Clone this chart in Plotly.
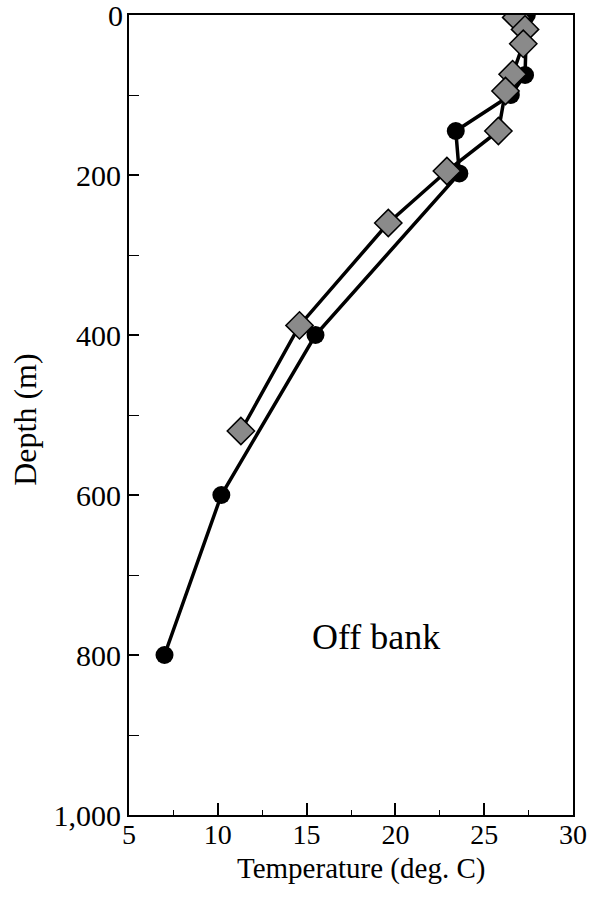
import plotly.graph_objects as go

# Circle series (temperature degC, depth m)
circle_temp = [27.4, 27.3, 26.5, 23.4, 23.6, 15.5, 10.2, 7.0]
circle_depth = [0, 75, 100, 145, 198, 400, 600, 800]

# Diamond series
diamond_temp = [26.8, 27.3, 27.2, 26.6, 26.2, 25.8, 22.9, 19.6, 14.6, 11.3]
diamond_depth = [3, 18, 36, 74, 95, 145, 195, 260, 388, 520]

x_ticks = [5, 10, 15, 20, 25, 30]
y_ticks = [0, 200, 400, 600, 800, 1000]
y_ticktext = ["", "200", "400", "600", "800", "1,000"]
top_label = "0"

FONT = "Liberation Serif"

fig = go.Figure()
fig.add_trace(go.Scatter(
    x=circle_temp, y=circle_depth, mode="lines+markers",
    line=dict(color="black", width=3.5),
    marker=dict(symbol="circle", size=18, color="black"),
    showlegend=False,
))
fig.add_trace(go.Scatter(
    x=diamond_temp, y=diamond_depth, mode="lines+markers",
    line=dict(color="black", width=3.5),
    marker=dict(symbol="diamond", size=21, color="#8a8a8a",
                line=dict(color="black", width=1.5)),
    showlegend=False,
))

fig.add_annotation(x=18.9, y=778, text="Off bank", showarrow=False,
                   font=dict(family=FONT, size=36, color="black"))

# tick label for depth 0 (Plotly hides it at the figure's top edge)
fig.add_annotation(x=0, xref="paper", y=y_ticks[0], yref="y", text=top_label,
                   showarrow=False, xanchor="right", yanchor="middle", xshift=-4,
                   font=dict(family=FONT, size=30, color="black"))

# axis titles
fig.add_annotation(x=0.5225, xref="paper", y=0, yref="paper", yshift=-53,
                   text="Temperature (deg. C)", showarrow=False,
                   xanchor="center", yanchor="middle",
                   font=dict(family=FONT, size=29, color="black"))
fig.add_annotation(x=0, xref="paper", xshift=-104, y=0.494, yref="paper",
                   text="Depth (m)", showarrow=False, textangle=-90,
                   xanchor="center", yanchor="middle",
                   font=dict(family=FONT, size=32, color="black"))

fig.update_xaxes(
    range=[5, 30], tickvals=x_ticks, ticks="inside", ticklen=12, tickwidth=1.5,
    tickcolor="black", ticklabelstandoff=-7,
    minor=dict(dtick=2.5, ticks="inside", ticklen=5, tickcolor="black", tickwidth=1),
    showline=True, linecolor="black", linewidth=2, mirror=True,
    showgrid=False, zeroline=False, automargin=False,
    tickfont=dict(family=FONT, size=28, color="black"),
)
fig.update_yaxes(
    range=[1000, 0], tickvals=y_ticks, ticktext=y_ticktext,
    ticks="inside", ticklen=10, tickwidth=1.5, tickcolor="black",
    minor=dict(dtick=100, ticks="inside", ticklen=10, tickcolor="black", tickwidth=1),
    showline=True, linecolor="black", linewidth=2, mirror=True,
    showgrid=False, zeroline=False, automargin=False,
    tickfont=dict(family=FONT, size=30, color="black"),
)

fig.update_layout(
    width=591, height=899,
    margin=dict(l=129, r=18, t=15, b=84),
    paper_bgcolor="white", plot_bgcolor="white",
)

fig.write_html(
    "out.html",
    config={"displayModeBar": False},
    post_script="document.body.style.margin='0';document.body.style.overflow='hidden';",
)
